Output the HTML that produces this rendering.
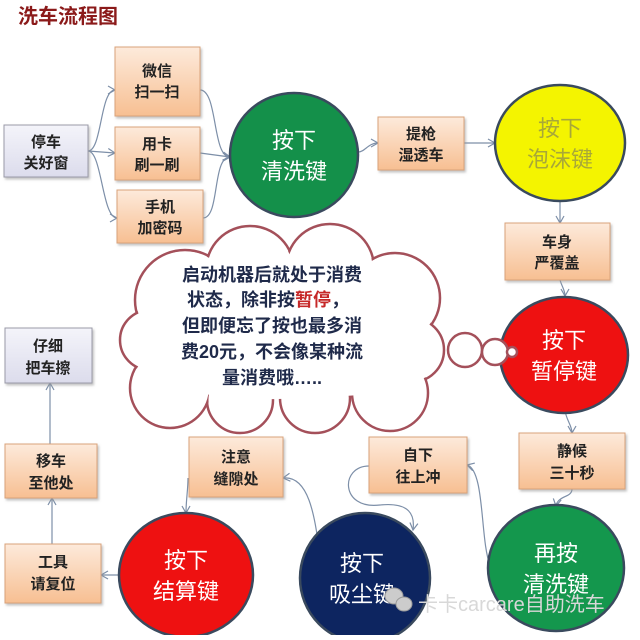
<!DOCTYPE html>
<html><head><meta charset="utf-8"><style>
body{margin:0;background:#fff;}
svg text{font-family:"Liberation Sans","Noto Sans CJK SC",sans-serif;}
</style></head><body>
<svg width="640" height="635" viewBox="0 0 640 635" xmlns="http://www.w3.org/2000/svg">
<defs>
<linearGradient id="pe" x1="0" y1="0" x2="0" y2="1"><stop offset="0" stop-color="#fdeadb"/><stop offset="1" stop-color="#f7bf92"/></linearGradient>
<linearGradient id="lv" x1="0" y1="0" x2="0" y2="1"><stop offset="0" stop-color="#f4f4fa"/><stop offset="1" stop-color="#dcdcec"/></linearGradient>
<marker id="ar" markerWidth="10" markerHeight="10" refX="8" refY="5" orient="auto" markerUnits="userSpaceOnUse"><path d="M1,1 L8,5 L1,9" fill="none" stroke="#7d8fa8" stroke-width="1.2"/></marker>
<filter id="sh"><feDropShadow dx="1.5" dy="2" stdDeviation="1.2" flood-color="#999" flood-opacity="0.6"/></filter>
</defs>
<text x="18" y="23" font-size="20" font-weight="bold" fill="#8b1a1a">洗车流程图</text>

<g fill="none" stroke="#7d8fa8" stroke-width="1.2">
<path d="M88,151 C102,151 100,90 115,90" marker-end="url(#ar)"/>
<path d="M88,151 L115,153" marker-end="url(#ar)"/>
<path d="M88,151 C102,151 102,218 117,218" marker-end="url(#ar)"/>
<path d="M200,90 C218,90 212,157 230,157" marker-end="url(#ar)"/>
<path d="M200,153 L230,157" marker-end="url(#ar)"/>
<path d="M203,218 C220,218 212,157 230,157" marker-end="url(#ar)"/>
<path d="M358,152 C365,152 368,143 378,143" marker-end="url(#ar)"/>
<path d="M464,143 L495,143" marker-end="url(#ar)"/>
<path d="M560,200 L560,223" marker-end="url(#ar)"/>
<path d="M560,280 C562,287 565,290 565,296" marker-end="url(#ar)"/>
<path d="M565,410 C566,420 572,425 572,433" marker-end="url(#ar)"/>
<path d="M572,489 C572,498 558,495 556,506" marker-end="url(#ar)"/>
<path d="M490,565 C480,540 485,470 467,465" marker-end="url(#ar)"/>
<path d="M369,466 C340,466 340,510 380,505 C410,502 415,515 413,530" marker-end="url(#ar)"/>
<path d="M320,555 C315,520 310,475 283,478" marker-end="url(#ar)"/>
<path d="M188,478 C188,490 186,500 186,513" marker-end="url(#ar)"/>
<path d="M120,575 L101,575" marker-end="url(#ar)"/>
<path d="M52,544 L52,498" marker-end="url(#ar)"/>
<path d="M50,444 L50,383" marker-end="url(#ar)"/>
</g>

<g filter="url(#sh)" stroke="#d9a27a" stroke-width="1">
<rect x="4" y="125" width="84" height="52" fill="url(#lv)" stroke="#9a9aa8"/>
<rect x="115" y="47" width="85" height="69" fill="url(#pe)"/>
<rect x="115" y="127" width="85" height="53" fill="url(#pe)"/>
<rect x="117" y="190" width="86" height="53" fill="url(#pe)"/>
<rect x="378" y="117" width="86" height="53" fill="url(#pe)"/>
<rect x="505" y="223" width="105" height="57" fill="url(#pe)"/>
<rect x="519" y="433" width="106" height="56" fill="url(#pe)"/>
<rect x="369" y="437" width="98" height="56" fill="url(#pe)"/>
<rect x="189" y="437" width="94" height="60" fill="url(#pe)"/>
<rect x="5" y="444" width="92" height="54" fill="url(#pe)"/>
<rect x="5" y="544" width="96" height="59" fill="url(#pe)"/>
<rect x="5" y="328" width="87" height="55" fill="url(#lv)" stroke="#9a9aa8"/>
</g>

<g font-size="15" font-weight="bold" fill="#222" text-anchor="middle">
<text x="46" y="147">停车</text><text x="46" y="168">关好窗</text>
<text x="157" y="76">微信</text><text x="157" y="97">扫一扫</text>
<text x="157" y="149">用卡</text><text x="157" y="170">刷一刷</text>
<text x="160" y="212">手机</text><text x="160" y="233">加密码</text>
<text x="421" y="139">提枪</text><text x="421" y="160">湿透车</text>
<text x="557" y="247">车身</text><text x="557" y="268">严覆盖</text>
<text x="572" y="456">静候</text><text x="572" y="478">三十秒</text>
<text x="418" y="460">自下</text><text x="418" y="482">往上冲</text>
<text x="236" y="462">注意</text><text x="236" y="484">缝隙处</text>
<text x="51" y="466">移车</text><text x="51" y="488">至他处</text>
<text x="53" y="567">工具</text><text x="53" y="589">请复位</text>
<text x="48" y="351">仔细</text><text x="48" y="373">把车擦</text>
</g>

<g stroke="#3a4a5e" stroke-width="2.5">
<ellipse cx="294" cy="155" rx="64" ry="62" fill="#14904a"/>
<ellipse cx="560" cy="143" rx="65" ry="58" fill="#f4f400"/>
<ellipse cx="564" cy="355" rx="64" ry="58" fill="#ee1111"/>
<ellipse cx="556" cy="568" rx="68" ry="63" fill="#14974d"/>
<ellipse cx="365" cy="578" rx="65" ry="65" fill="#0d2560"/>
<ellipse cx="186" cy="575" rx="67" ry="62" fill="#ee1111"/>
</g>
<g font-size="22" fill="#fff" text-anchor="middle">
<text x="294" y="148">按下</text><text x="294" y="179">清洗键</text>
<text x="560" y="136" fill="#a8a838">按下</text><text x="560" y="167" fill="#a8a838">泡沫键</text>
<text x="564" y="348">按下</text><text x="564" y="379">暂停键</text>
<text x="556" y="561">再按</text><text x="556" y="592">清洗键</text>
<text x="362" y="571">按下</text><text x="362" y="602">吸尘键</text>
<text x="186" y="568">按下</text><text x="186" y="599">结算键</text>
</g>

<g stroke="#a4505a" stroke-width="2.5" fill="#fff">
<circle cx="185" cy="300" r="50"/><circle cx="250" cy="270" r="44"/><circle cx="330" cy="268" r="44"/>
<circle cx="395" cy="298" r="45"/><circle cx="412" cy="350" r="32"/><circle cx="390" cy="393" r="38"/>
<circle cx="315" cy="398" r="35"/><circle cx="240" cy="400" r="33"/><circle cx="170" cy="388" r="40"/>
<circle cx="150" cy="340" r="30"/>
</g>
<g fill="#fff">
<circle cx="185" cy="300" r="48.5"/><circle cx="250" cy="270" r="42.5"/><circle cx="330" cy="268" r="42.5"/>
<circle cx="395" cy="298" r="43.5"/><circle cx="412" cy="350" r="30.5"/><circle cx="390" cy="393" r="36.5"/>
<circle cx="315" cy="398" r="33.5"/><circle cx="240" cy="400" r="31.5"/><circle cx="170" cy="388" r="38.5"/>
<circle cx="150" cy="340" r="28.5"/>
<polygon points="185,300 250,270 330,268 395,298 412,350 390,393 315,398 240,400 170,388 150,340"/>
</g>
<g stroke="#a4505a" stroke-width="2.5" fill="#fff">
<circle cx="465" cy="350" r="17"/><circle cx="495" cy="352" r="13"/><circle cx="512" cy="352" r="5"/>
</g>
<g font-size="18" font-weight="bold" fill="#1f2a4a" text-anchor="middle">
<text x="272" y="281">启动机器后就处于消费</text>
<text x="268" y="306">状态，除非按<tspan fill="#c62828">暂停</tspan>，</text>
<text x="272" y="332">但即便忘了按也最多消</text>
<text x="272" y="358">费20元，不会像某种流</text>
<text x="272" y="384">量消费哦…..</text>
</g>

<g fill="#ccc" stroke="#999" stroke-width="1">
<ellipse cx="394" cy="596" rx="9" ry="8"/><ellipse cx="404" cy="604" rx="8" ry="7"/>
</g>
<text x="418" y="611" font-size="20" fill="#d8d8d8">卡卡carcare自助洗车</text>
</svg>
</body></html>
